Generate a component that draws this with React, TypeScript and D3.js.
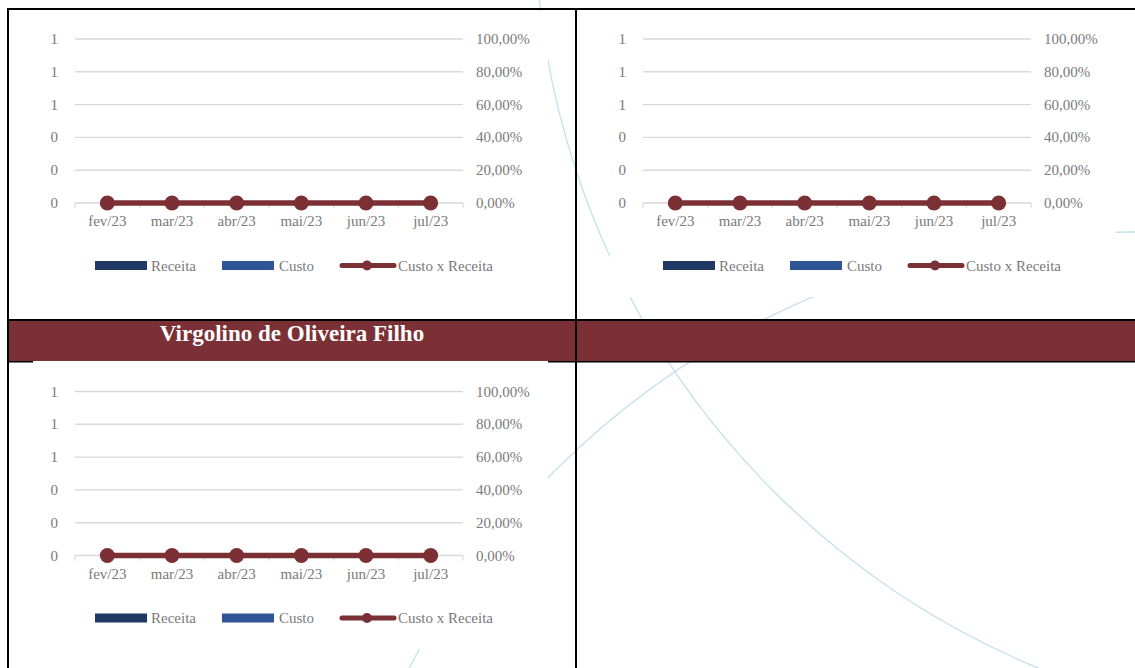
import React from "react";
import * as d3 from "d3";

// ---- data ----
const months = ["fev/23", "mar/23", "abr/23", "mai/23", "jun/23", "jul/23"];
const receita = [0, 0, 0, 0, 0, 0];
const custo = [0, 0, 0, 0, 0, 0];
const custoXReceita = [0, 0, 0, 0, 0, 0];
const leftTicks = [0, 0.2, 0.4, 0.6, 0.8, 1];
const rightTicks = [0, 0.2, 0.4, 0.6, 0.8, 1];
const seriesNames = ["Receita", "Custo", "Custo x Receita"];
const sectionTitle = "Virgolino de Oliveira Filho";

const COLORS = {
  receita: "#203864",
  custo: "#2F5597",
  line: "#7B3035",
  bar: "#7B3035",
  grid: "#d9d9d9",
  text: "#7a7a7a",
  arc: "#c3e1ec",
};

const FONT = "'Liberation Serif', 'Times New Roman', serif";

const ptBR = d3.formatLocale({
  decimal: ",",
  thousands: ".",
  grouping: [3],
  currency: ["R$", ""],
});
const fmtPct = ptBR.format(".2%");
const fmtNum = d3.format(".0f");

type PanelProps = { ox: number; oy: number; bg: [number, number, number, number] };

function ChartPanel({ ox, oy, bg }: PanelProps) {
  const x = d3.scaleBand<string>().domain(months).range([75, 463]);
  const yL = d3.scaleLinear().domain([0, 1]).range([203, 39]);
  const yR = d3.scaleLinear().domain([0, 1]).range([203, 39]);
  const barW = x.bandwidth() * 0.3;
  const line = d3
    .line<number>()
    .x((_, i) => (x(months[i]) as number) + x.bandwidth() / 2)
    .y((d) => yR(d));
  const boundaries = d3.range(months.length + 1).map((i) => 75 + x.step() * i);
  return (
    <g>
      <rect x={bg[0]} y={bg[1]} width={bg[2] - bg[0]} height={bg[3] - bg[1]} fill="#ffffff" />
      <g transform={`translate(${ox},${oy})`} fontFamily={FONT} fontSize={15} fill={COLORS.text}>
        {leftTicks.map((t) => (
          <line key={"g" + t} x1={75} x2={463} y1={yL(t)} y2={yL(t)} stroke={COLORS.grid} strokeWidth={1.4} />
        ))}
        {boundaries.map((b, i) => (
          <line key={"tk" + i} x1={b} x2={b} y1={yL(0)} y2={yL(0) + 5} stroke={COLORS.grid} strokeWidth={1.2} />
        ))}
        {leftTicks.map((t) => (
          <text key={"l" + t} x={58} y={yL(t) + 5} textAnchor="end">
            {fmtNum(t)}
          </text>
        ))}
        {rightTicks.map((t) => (
          <text key={"r" + t} x={476} y={yR(t) + 5} textAnchor="start">
            {fmtPct(t)}
          </text>
        ))}
        {months.map((m) => (
          <text key={m} x={(x(m) as number) + x.bandwidth() / 2} y={226} textAnchor="middle">
            {m}
          </text>
        ))}
        {months.map((m, i) => (
          <g key={"b" + m}>
            <rect
              x={(x(m) as number) + x.bandwidth() / 2 - barW}
              y={yL(receita[i])}
              width={barW}
              height={yL(0) - yL(receita[i])}
              fill={COLORS.receita}
            />
            <rect
              x={(x(m) as number) + x.bandwidth() / 2}
              y={yL(custo[i])}
              width={barW}
              height={yL(0) - yL(custo[i])}
              fill={COLORS.custo}
            />
          </g>
        ))}
        <path d={line(custoXReceita) || ""} fill="none" stroke={COLORS.line} strokeWidth={5.5} />
        {custoXReceita.map((v, i) => (
          <circle
            key={"c" + i}
            cx={(x(months[i]) as number) + x.bandwidth() / 2}
            cy={yR(v)}
            r={7.5}
            fill={COLORS.line}
          />
        ))}
        {/* legend */}
        <rect x={95} y={261} width={52} height={9} fill={COLORS.receita} />
        <text x={151} y={270.5}>{seriesNames[0]}</text>
        <rect x={222} y={261} width={52} height={9} fill={COLORS.custo} />
        <text x={279} y={270.5}>{seriesNames[1]}</text>
        <line x1={342} x2={394} y1={265.5} y2={265.5} stroke={COLORS.line} strokeWidth={5} strokeLinecap="round" />
        <circle cx={367} cy={265.5} r={5} fill={COLORS.line} />
        <text x={398} y={270.5}>{seriesNames[2]}</text>
      </g>
    </g>
  );
}

export default function App() {
  const W = 1135;
  const H = 668;
  return (
    <svg
      width={W}
      height={H}
      style={{ position: "absolute", left: 0, top: 0, display: "block", background: "#fff" }}
    >
      <rect x={0} y={0} width={W} height={H} fill="#ffffff" />
      {/* watermark arcs */}
      <circle cx={1350} cy={-85} r={815} fill="none" stroke={COLORS.arc} strokeWidth={1.3} />
      <circle cx={1132} cy={1049} r={817} fill="none" stroke={COLORS.arc} strokeWidth={1.3} />
      {/* table structure */}
      <rect x={8} y={320} width={W - 8} height={41} fill={COLORS.bar} />
      <line x1={7} x2={W} y1={9} y2={9} stroke="#000" strokeWidth={2} />
      <line x1={8} x2={8} y1={8} y2={H} stroke="#000" strokeWidth={2} />
      <line x1={576} x2={576} y1={8} y2={H} stroke="#000" strokeWidth={2} />
      <line x1={7} x2={W} y1={320} y2={320} stroke="#000" strokeWidth={2} />
      <line x1={7} x2={W} y1={361.8} y2={361.8} stroke="#000" strokeWidth={1.6} />
      <text
        x={292}
        y={341}
        textAnchor="middle"
        fontFamily={FONT}
        fontWeight="bold"
        fontSize={23}
        fill="#ffffff"
      >
        {sectionTitle}
      </text>
      {/* charts */}
      <ChartPanel ox={0} oy={0} bg={[33, 11, 548, 297]} />
      <ChartPanel ox={568} oy={0} bg={[610, 11, 1116, 297]} />
      <ChartPanel ox={0} oy={352.5} bg={[33, 361, 548, 649]} />
    </svg>
  );
}
